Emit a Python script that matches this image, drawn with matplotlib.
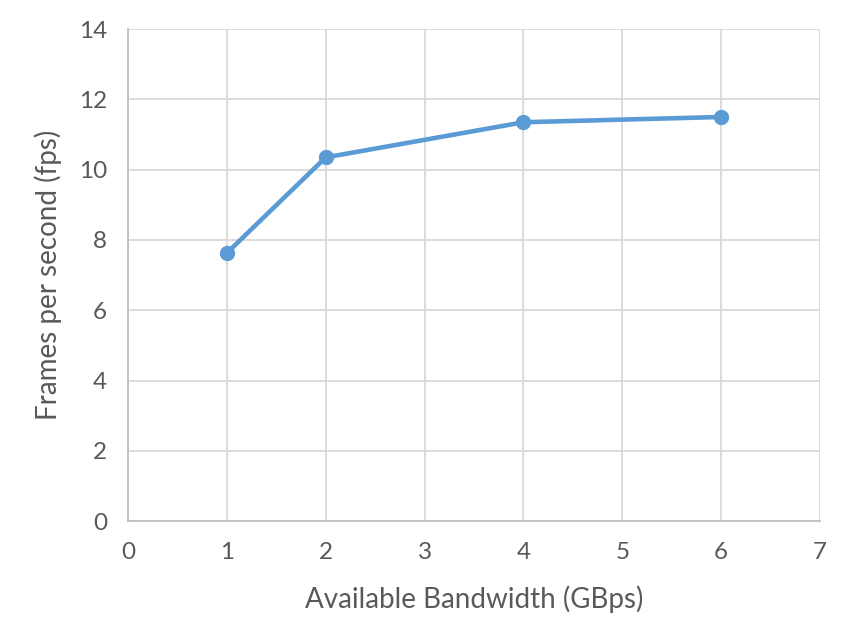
import matplotlib.pyplot as plt

# bandwidth vs fps
bandwidth = [1, 2, 4, 6]
fps = [7.63, 10.35, 11.35, 11.5]

x_ticks = [0, 1, 2, 3, 4, 5, 6, 7]
y_ticks = [0, 2, 4, 6, 8, 10, 12, 14]

plt.rcParams['font.family'] = ['Lato', 'DejaVu Sans']
text_col = '#595959'

fig = plt.figure(figsize=(8.42, 6.19), dpi=100)
ax = fig.add_axes([0.152, 0.158, 0.822, 0.795])

ax.plot(bandwidth, fps, color='#5B9BD5', linewidth=3.3, marker='o',
        markersize=10, zorder=3, solid_capstyle='round')

ax.set_xlim(0, 7)
ax.set_ylim(0, 14)
ax.set_xticks(x_ticks)
ax.set_yticks(y_ticks)
ax.grid(True, color='#D9D9D9', linewidth=1.3)
ax.set_axisbelow(True)

for s in ['top', 'right']:
    ax.spines[s].set_visible(False)
for s in ['left', 'bottom']:
    ax.spines[s].set_color('#BFBFBF')
    ax.spines[s].set_linewidth(1.3)

ax.tick_params(length=0, labelsize=17.5, colors=text_col, pad=15)
ax.set_xlabel('Available Bandwidth (GBps)', fontsize=20, color=text_col, labelpad=16)
ax.set_ylabel('Frames per second (fps)', fontsize=20, color=text_col, labelpad=12)

fig.savefig('out.png')
